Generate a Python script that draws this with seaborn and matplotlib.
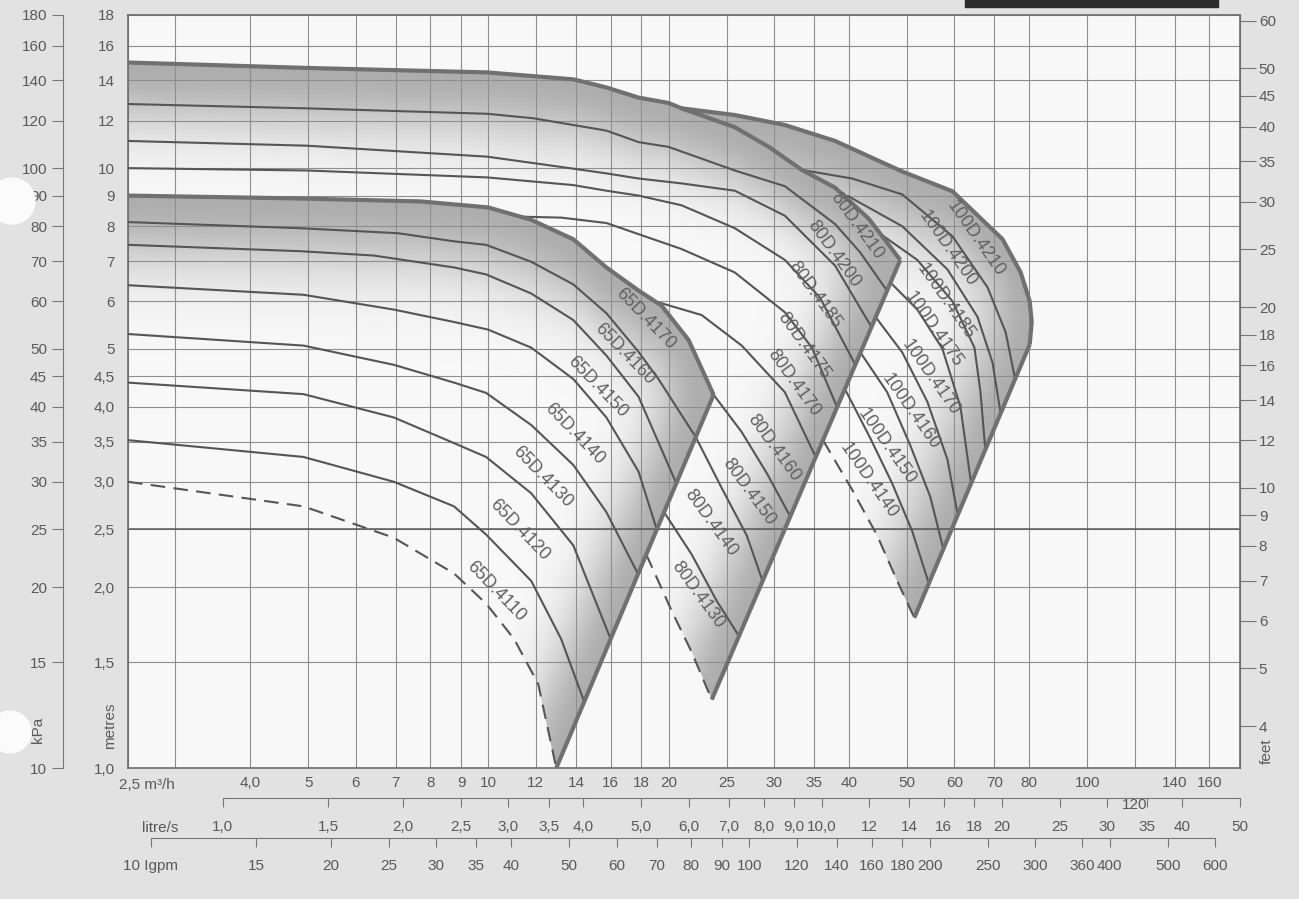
import numpy as np
import matplotlib
matplotlib.use("Agg")
import matplotlib.pyplot as plt
import seaborn as sns
from matplotlib.patches import Polygon, Rectangle, Ellipse
from matplotlib.colors import LinearSegmentedColormap
from matplotlib.ticker import NullLocator

# ---------------- data: flow Q (m³/h) and head H (metres) ----------------
# 65D family (first curve = 4170, bold top)
names_65 = ["65D.4170", "65D.4160", "65D.4150", "65D.4140", "65D.4130", "65D.4120", "65D.4110"]
q_65 = [
    [2.5, 4.85, 7.71, 9.99, 11.79, 13.86, 15.74, 17.81, 19.46, 21.59, 23.77],
    [2.5, 4.85, 7.06, 8.76, 9.91, 11.79, 13.86, 15.74, 17.81, 19.23, 22.2],
    [2.5, 4.85, 6.43, 8.76, 9.91, 11.79, 13.86, 15.74, 17.81, 20.6],
    [2.5, 4.91, 6.95, 8.76, 9.99, 11.79, 13.86, 15.74, 17.81, 19.1],
    [2.5, 4.91, 6.95, 8.76, 9.91, 11.79, 13.86, 15.74, 17.8],
    [2.5, 4.91, 6.95, 8.76, 9.91, 11.79, 13.86, 16.0],
    [2.5, 4.91, 6.95, 8.76, 9.91, 11.79, 13.23, 14.45],
]
h_65 = [
    [9.0, 8.9, 8.8, 8.6, 8.2, 7.61, 6.83, 6.25, 5.9, 5.17, 4.19],
    [8.13, 7.94, 7.79, 7.55, 7.45, 6.98, 6.4, 5.73, 4.94, 4.45, 3.56],
    [7.45, 7.27, 7.15, 6.83, 6.65, 6.18, 5.58, 4.87, 4.16, 2.98],
    [6.38, 6.15, 5.81, 5.54, 5.38, 5.02, 4.45, 3.84, 3.12, 2.5],
    [5.29, 5.06, 4.7, 4.39, 4.22, 3.73, 3.2, 2.67, 2.1],
    [4.39, 4.2, 3.84, 3.48, 3.3, 2.87, 2.35, 1.64],
    [3.52, 3.3, 3.0, 2.73, 2.45, 2.05, 1.64, 1.29],
]
q_65_min = [2.5, 4.91, 6.95, 8.76, 9.91, 11.04, 12.11, 12.98]
h_65_min = [3.0, 2.73, 2.42, 2.11, 1.88, 1.64, 1.38, 1.0]
q_65_edge = [12.98, 23.77]
h_65_edge = [1.0, 4.19]
lab_q_65 = [18.3, 16.9, 15.2, 13.9, 12.3, 11.25, 10.3]
lab_h_65 = [5.6, 4.89, 4.31, 3.61, 3.06, 2.49, 1.97]

# 80D family
names_80 = ["80D.4210", "80D.4200", "80D.4185", "80D.4175", "80D.4170",
            "80D.4160", "80D.4150", "80D.4140", "80D.4130"]
q_80 = [
    [2.5, 4.97, 9.95, 13.86, 15.74, 17.81, 19.99, 21.02, 25.79, 29.4, 33.39, 37.92, 43.2, 48.73],
    [2.5, 4.97, 9.95, 11.88, 13.86, 15.74, 17.81, 19.99, 25.79, 31.27, 37.92, 41.76, 46.3],
    [2.5, 4.97, 9.95, 13.86, 15.74, 17.81, 21.02, 25.79, 31.27, 37.92, 43.6],
    [2.5, 4.97, 9.95, 13.86, 15.74, 17.81, 21.02, 25.79, 31.27, 35.8, 41.0],
    [11.34, 13.23, 15.74, 21.02, 25.79, 31.27, 34.7, 38.2],
    [18.94, 22.7, 26.49, 31.27, 35.2],
    [23.77, 26.49, 29.17, 31.9],
    [22.2, 24.52, 27.01, 28.7],
    [19.65, 21.85, 24.05, 26.2],
]
h_80 = [
    [15.0, 14.69, 14.44, 14.06, 13.63, 13.11, 12.84, 12.58, 11.7, 10.85, 9.93, 9.28, 8.23, 7.03],
    [12.79, 12.58, 12.32, 12.11, 11.8, 11.55, 11.05, 10.85, 9.91, 9.33, 8.07, 7.24, 6.25],
    [11.1, 10.9, 10.45, 9.98, 9.8, 9.61, 9.43, 9.17, 8.33, 6.88, 5.44],
    [10.0, 9.91, 9.65, 9.37, 9.17, 9.0, 8.67, 7.94, 7.03, 6.08, 4.7],
    [8.3, 8.27, 8.1, 7.33, 6.7, 5.75, 5.02, 4.0],
    [6.0, 5.69, 5.06, 4.23, 3.3],
    [4.19, 3.63, 3.1, 2.63],
    [3.56, 2.93, 2.44, 2.05],
    [2.67, 2.27, 1.9, 1.66],
]
q_80_min = [18.35, 20.22, 21.85, 23.6]
h_80_min = [2.27, 1.83, 1.56, 1.3]
q_80_edge = [48.73, 23.6]
h_80_edge = [7.03, 1.3]
lab_q_80 = [41.3, 37.8, 35.1, 33.6, 32.4, 30.0, 27.2, 23.5, 22.4]
lab_h_80 = [8.0, 7.18, 6.15, 5.06, 4.39, 3.42, 2.88, 2.56, 1.94]

# 100D family
names_100 = ["100D.4210", "100D.4200", "100D.4185", "100D.4175",
             "100D.4170", "100D.4160", "100D.4150", "100D.4140"]
q_100 = [
    [21.02, 25.79, 31.27, 37.92, 49.11, 59.56, 72.23, 77.44, 80.17, 80.79, 80.17],
    [33.39, 40.5, 49.11, 59.56, 68.16, 73.08, 75.8],
    [39.72, 49.11, 58.42, 65.59, 69.49, 71.7],
    [45.46, 52.04, 59.56, 64.83, 66.35, 67.6],
    [46.9, 52.04, 57.3, 61.43, 64.0],
    [44.3, 49.11, 54.08, 58.42, 60.8],
    [41.8, 46.35, 50.65, 54.71, 57.5],
    [39.4, 43.41, 47.25, 51.04, 54.4],
]
h_100 = [
    [12.58, 12.26, 11.8, 11.1, 9.87, 9.15, 7.61, 6.7, 6.0, 5.54, 5.08],
    [9.93, 9.61, 9.04, 7.7, 6.33, 5.33, 4.45],
    [9.0, 8.0, 6.78, 5.65, 4.74, 3.9],
    [7.73, 7.03, 6.0, 5.02, 4.23, 3.39],
    [6.45, 5.81, 5.0, 4.0, 2.98],
    [5.65, 4.93, 4.08, 3.27, 2.64],
    [4.93, 4.23, 3.45, 2.83, 2.32],
    [4.28, 3.55, 2.98, 2.48, 2.03],
]
q_100_min = [36.2, 40.5, 44.6, 48.17, 51.44]
h_100_min = [3.52, 2.91, 2.44, 2.05, 1.78]
q_100_edge = [80.17, 51.44]
h_100_edge = [5.08, 1.78]
lab_q_100 = [65.1, 58.4, 58.0, 55.3, 54.7, 50.7, 46.3, 43.2]
lab_h_100 = [7.64, 7.33, 6.0, 5.38, 4.47, 3.92, 3.43, 3.01]

# axis ticks
q_ticks = [2.5, 3, 4, 5, 6, 7, 8, 9, 10, 12, 14, 16, 18, 20, 25, 30, 35, 40, 50, 60, 70, 80, 100, 120, 140, 160]
q_labels = ["", "", "4,0", "5", "6", "7", "8", "9", "10", "12", "14", "16", "18", "20", "25",
            "30", "35", "40", "50", "60", "70", "80", "100", "", "140", "160"]
m_ticks = [1.0, 1.5, 2.0, 2.5, 3.0, 3.5, 4.0, 4.5, 5, 6, 7, 8, 9, 10, 12, 14, 16, 18]
m_labels = ["1,0", "1,5", "2,0", "2,5", "3,0", "3,5", "4,0", "4,5", "5", "6", "7", "8", "9",
            "10", "12", "14", "16", "18"]
kpa_ticks = [10, 15, 20, 25, 30, 35, 40, 45, 50, 60, 70, 80, 90, 100, 120, 140, 160, 180]
ft_ticks = [4, 5, 6, 7, 8, 9, 10, 12, 14, 16, 18, 20, 25, 30, 35, 40, 45, 50, 60]
ls_ticks = [1.0, 1.5, 2.0, 2.5, 3.0, 3.5, 4.0, 5.0, 6.0, 7.0, 8.0, 9.0, 10.0, 12, 14, 16, 18,
            20, 25, 30, 35, 40, 50]
ls_labels = ["1,0", "1,5", "2,0", "2,5", "3,0", "3,5", "4,0", "5,0", "6,0", "7,0", "8,0", "9,0",
             "10,0", "12", "14", "16", "18", "20", "25", "30", "35", "40", "50"]
gpm_ticks = [10, 15, 20, 25, 30, 35, 40, 50, 60, 70, 80, 90, 100, 120, 140, 160, 180, 200,
             250, 300, 360, 400, 500, 600]
gpm_labels = ["10 Igpm"] + [str(v) for v in gpm_ticks[1:]]

# scale of the printed feet axis relative to the metres axis (as drawn on the sheet)
FT_PER_M = 3.41

# ---------------- figure ----------------
sns.set_style("white")
plt.rcParams["font.family"] = ["Liberation Sans", "DejaVu Sans"]

W, HP = 1299, 899
TXT = "#595959"
fig = plt.figure(figsize=(W / 100, HP / 100), dpi=100, facecolor="#e2e2e2")
ax = fig.add_axes([128 / W, 131 / HP, 1112 / W, 753 / HP])
ax.set_facecolor("#f8f8f8")
ax.set_xscale("log")
ax.set_yscale("log")
ax.set_xlim(2.5, 180)
ax.set_ylim(1.0, 18.0)

grey_cmap = LinearSegmentedColormap.from_list("shade", ["#f8f8f8", "#adadad"])


def shade(top_q, top_h, edge_q, edge_h, poly_q, poly_h, s_top, s_edge):
    lq = np.linspace(np.log10(min(poly_q)), np.log10(max(poly_q)), 400)
    lh = np.linspace(np.log10(min(poly_h)), np.log10(max(poly_h)), 400)
    LQ, LH = np.meshgrid(lq, lh)
    tq = np.log10(np.asarray(top_q, float))
    th = np.log10(np.asarray(top_h, float))
    o = np.argsort(tq, kind="stable")
    top_at = np.interp(LQ, tq[o], th[o])
    eq = np.log10(np.asarray(edge_q, float))
    eh = np.log10(np.asarray(edge_h, float))
    edge_at = eq[0] + (LH - eh[0]) * (eq[1] - eq[0]) / (eh[1] - eh[0])
    a = np.exp(-(np.clip(top_at - LH, 0, None) / s_top) ** 2)
    b = np.exp(-(np.clip(edge_at - LQ, 0, None) / s_edge) ** 2)
    dark = 1 - (1 - a) * (1 - b)
    mesh = ax.pcolormesh(10 ** lq, 10 ** lh, dark, cmap=grey_cmap, vmin=0, vmax=1,
                         shading="nearest", zorder=1)
    patch = Polygon(np.column_stack([poly_q, poly_h]), closed=True, facecolor="none",
                    edgecolor="none", transform=ax.transData)
    ax.add_patch(patch)
    mesh.set_clip_path(patch)


# shaded regions
sel = [(q, h) for q, h in zip(q_80[0], h_80[0]) if q >= q_100[0][0]][::-1]
shade(q_100[0], h_100[0], q_100_edge, h_100_edge,
      q_100[0] + q_100_min[::-1] + [p[0] for p in sel],
      h_100[0] + h_100_min[::-1] + [p[1] for p in sel], 0.12, 0.10)
shade(q_80[0], h_80[0], q_80_edge, h_80_edge,
      q_80[0] + q_80_min[::-1] + q_65[0][::-1],
      h_80[0] + h_80_min[::-1] + h_65[0][::-1], 0.11, 0.09)
shade(q_65[0], h_65[0], q_65_edge, h_65_edge,
      q_65[0] + q_65_min[::-1], h_65[0] + h_65_min[::-1], 0.12, 0.09)


def curve(q, h, bold=False, dashed=False):
    kw = dict(color="#707070" if bold else "#555555",
              linewidth=3.0 if bold else 1.5,
              zorder=3.5 if bold else 3)
    if dashed:
        kw["linestyle"] = (0, (7, 4))
    sns.lineplot(x=q, y=h, ax=ax, sort=False, estimator=None, legend=False,
                 solid_capstyle="butt", **kw)


for fam_q, fam_h, mq, mh, eq, eh in [
    (q_65, h_65, q_65_min, h_65_min, q_65_edge, h_65_edge),
    (q_80, h_80, q_80_min, h_80_min, q_80_edge, h_80_edge),
    (q_100, h_100, q_100_min, h_100_min, q_100_edge, h_100_edge),
]:
    for i, (cq, ch) in enumerate(zip(fam_q, fam_h)):
        curve(cq, ch, bold=(i == 0))
    curve(mq, mh, dashed=True)
    curve(eq, eh, bold=True)

for names, lq, lh, rot in [(names_65, lab_q_65, lab_h_65, -46),
                           (names_80, lab_q_80, lab_h_80, -54),
                           (names_100, lab_q_100, lab_h_100, -55)]:
    for n, q, h in zip(names, lq, lh):
        ax.text(q, h, n, rotation=rot, rotation_mode="anchor", ha="center", va="center",
                fontsize=13, color="#606060", zorder=5)

# grid and main axes
ax.set_xticks(q_ticks, q_labels)
ax.set_yticks(m_ticks, m_labels)
ax.xaxis.set_minor_locator(NullLocator())
ax.yaxis.set_minor_locator(NullLocator())
ax.set_axisbelow("line")
ax.grid(True, which="major", color="#8e8e8e", linewidth=0.8)
ax.axhline(2.5, color="#5a5a5a", linewidth=1.1, zorder=1.6)
for s in ax.spines.values():
    s.set_color("#6d6d6d")
    s.set_linewidth(1.2)
ax.tick_params(axis="x", length=0, pad=6, labelsize=11, labelcolor=TXT)
ax.tick_params(axis="y", direction="out", length=8, width=0.8, color="#777777", pad=1.5,
               labelsize=11, labelcolor=TXT)

ax.annotate("2,5 m³/h", xy=(2.5, 0), xycoords=("data", "axes fraction"), xytext=(-9, -17),
            textcoords="offset pixels", ha="left", va="center", fontsize=11, color=TXT)
ax.annotate("120", xy=(120, 0), xycoords=("data", "axes fraction"), xytext=(0, -37),
            textcoords="offset pixels", ha="center", va="center", fontsize=11, color=TXT)

# kPa axis
kpa = ax.secondary_yaxis((63 - 128) / 1112, functions=(lambda m: m * 10, lambda k: k / 10))
kpa.set_yticks(kpa_ticks, [str(v) for v in kpa_ticks])
kpa.yaxis.set_minor_locator(NullLocator())
kpa.tick_params(direction="out", length=8, width=0.8, color="#777777", pad=3.5,
                labelsize=11, labelcolor=TXT)
kpa.spines["left"].set_color("#777777")

# feet axis
ft = ax.secondary_yaxis("right", functions=(lambda m: m * FT_PER_M, lambda f: f / FT_PER_M))
ft.set_yticks(ft_ticks, [str(v) for v in ft_ticks])
ft.yaxis.set_minor_locator(NullLocator())
ft.tick_params(direction="out", length=11.5, width=0.8, color="#777777", pad=2,
               labelsize=11, labelcolor=TXT)
ft.spines["right"].set_color("#6d6d6d")

# litre/s axis
ls = ax.secondary_xaxis((768 - 798) / 753, functions=(lambda q: q / 3.6, lambda l: l * 3.6))
ls.set_xticks(ls_ticks, ls_labels)
ls.xaxis.set_minor_locator(NullLocator())
ls.tick_params(direction="out", length=6.5, width=0.8, color="#777777", pad=9,
               labelsize=11, labelcolor=TXT)
ls.spines["bottom"].set_bounds(1.0, 50)
ls.spines["bottom"].set_color("#777777")

# Igpm axis
gp = ax.secondary_xaxis((768 - 838) / 753, functions=(lambda q: q * 3.666, lambda g: g / 3.666))
gp.set_xticks(gpm_ticks, gpm_labels)
gp.xaxis.set_minor_locator(NullLocator())
gp.tick_params(direction="out", length=6.5, width=0.8, color="#777777", pad=8.5,
               labelsize=11, labelcolor=TXT)
gp.spines["bottom"].set_bounds(10, 600)
gp.spines["bottom"].set_color("#777777")

# axis names
fig.text(160 / W, 1 - 828 / HP, "litre/s", ha="center", va="center", fontsize=11, color=TXT)
fig.text(38 / W, 1 - 730 / HP, "kPa", ha="center", va="center", rotation=90, fontsize=11, color=TXT)
fig.text(110 / W, 1 - 726 / HP, "metres", ha="center", va="center", rotation=90, fontsize=11, color=TXT)
fig.text(1267 / W, 1 - 751 / HP, "feet", ha="center", va="center", rotation=90, fontsize=11, color=TXT)

# page decorations of the scanned sheet
fig.add_artist(Rectangle((965 / W, 1 - 7 / HP), (1218 - 965) / W, 7 / HP,
                         transform=fig.transFigure, color="#2b2b2b", zorder=10))
fig.add_artist(Ellipse((12 / W, 1 - 201 / HP), 46 / W, 46 / HP, transform=fig.transFigure,
                       color="#fbfbfb", zorder=10))
fig.add_artist(Ellipse((10 / W, 1 - 732 / HP), 42 / W, 42 / HP, transform=fig.transFigure,
                       color="#fbfbfb", zorder=10))

fig.savefig("out.png", dpi=100, facecolor=fig.get_facecolor())
